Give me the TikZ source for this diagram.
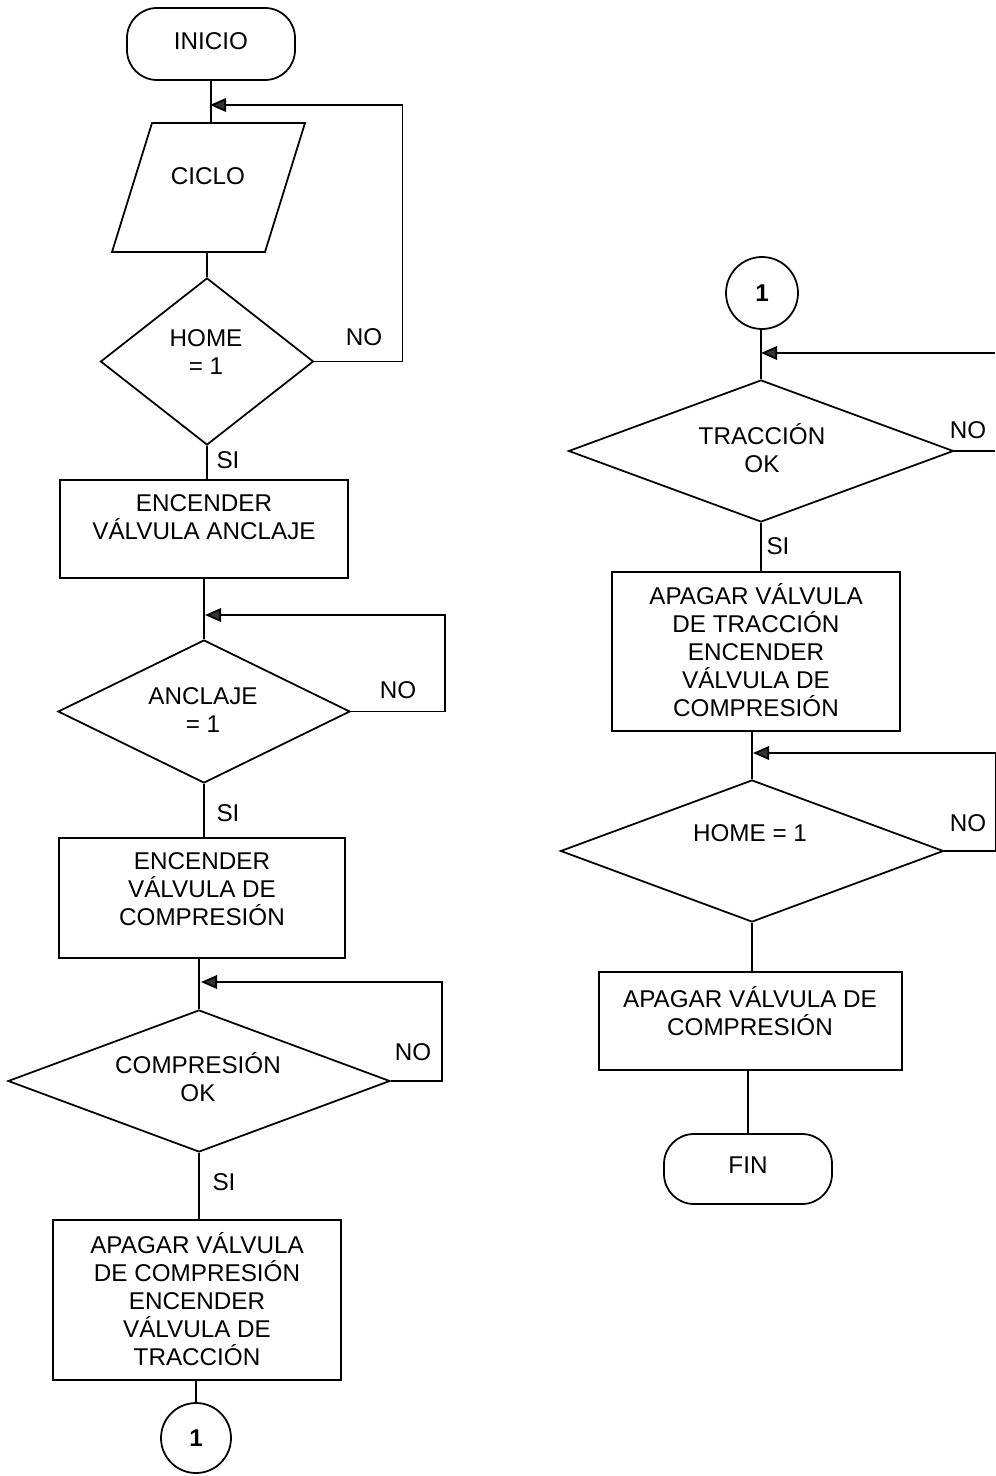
\documentclass[tikz,border=0pt]{standalone}
\usepackage{fontspec}
\setmainfont{Liberation Sans}
\usetikzlibrary{shapes.geometric,arrows.meta}

\tikzset{
  sz/.style 2 args={minimum width=#1*0.02cm, minimum height=#2*0.02cm},
  shp/.style={draw, line width=1pt, inner sep=0pt, fill=white},
  term/.style={shp, rectangle, rounded corners=0.6cm},
  box/.style={shp, rectangle},
  dec/.style={shp, diamond},
  conn/.style={shp, circle},
  txt/.style={align=center, inner sep=0pt, font=\fontsize{13.8}{16}\selectfont},
  lbl/.style={inner sep=0pt, font=\fontsize{13.8}{16}\selectfont},
  flow/.style={line width=1pt},
  back/.style={line width=1pt, -{Triangle[length=0.32cm, width=0.27cm, fill=black!80]}},
}

\begin{document}
\begin{tikzpicture}[x=0.02cm, y=-0.02cm]
\useasboundingbox (0,0) rectangle (995,1476);

% ---------------- left column ----------------
\node[term, sz={168}{72}] (ini) at (211,44) {};

% input/output parallelogram "CICLO"
\coordinate (cicTL) at (152,123);
\coordinate (cicTR) at (305,123);
\coordinate (cicBR) at (265,252);
\coordinate (cicBL) at (112,252);
\draw[line width=1pt, line join=miter] (cicTL) -- (cicTR) -- (cicBR) -- (cicBL) -- cycle;

\node[dec, sz={213}{167}] (hm1) at (207,361.5) {};
\node[box, sz={288}{98}] (b1) at (204,529) {};
\node[dec, sz={292}{143}] (anc) at (204,711.5) {};
\node[box, sz={286}{120}] (b2) at (202,898) {};
\node[dec, sz={382}{142}] (cmp) at (199,1081) {};
\node[box, sz={288}{160}] (b3) at (197,1300) {};
\node[conn, sz={70}{70}] (c1) at (196,1438) {};

\node[txt] (tini) at (211,41) {INICIO};
\node[txt] (tcic) at (208,176) {CICLO};
\node[txt] (thm1) at (206,352) {HOME\\= 1};
\node[txt] (tb1) at (204,517) {ENCENDER\\VÁLVULA ANCLAJE};
\node[txt] (tanc) at (203,710) {ANCLAJE\\= 1};
\node[txt] (tb2) at (202,889) {ENCENDER\\VÁLVULA DE\\COMPRESIÓN};
\node[txt] (tcmp) at (198,1077) {COMPRESIÓN\\OK};
\node[txt] (tb3) at (197,1299) {APAGAR VÁLVULA\\DE COMPRESIÓN\\ENCENDER\\VÁLVULA DE\\TRACCIÓN};
\node[txt] (tc1) at (196,1438) {\textbf{1}};

% junctions where the loops come back
\coordinate (j1) at (210,105);
\coordinate (j2) at (205,615);
\coordinate (j3) at (201,982);

\draw[flow] (ini.south) -- (ini.south |- cicTL);
\draw[flow] (hm1.north |- cicBL) -- (hm1.north);
\draw[flow] (hm1.south) -- (hm1.south |- b1.north);
\draw[flow] (anc.north |- b1.south) -- (anc.north);
\draw[flow] (anc.south) -- (anc.south |- b2.north);
\draw[flow] (cmp.north |- b2.south) -- (cmp.north);
\draw[flow] (cmp.south) -- (cmp.south |- b3.north);
\draw[flow] (c1.north |- b3.south) -- (c1.north);

\draw[back] (hm1.east) -- ++(88,0) |- (j1);
\draw[back] (anc.east) -- ++(94,0) |- (j2);
\draw[back] (cmp.east) -- ++(51,0) |- (j3);

\node[lbl] (no1) at (364,337) {NO};
\node[lbl] (si1) at (228,460) {SI};
\node[lbl] (no2) at (398,690) {NO};
\node[lbl] (si2) at (228,813) {SI};
\node[lbl] (no3) at (413,1052) {NO};
\node[lbl] (si3) at (224,1182) {SI};

% ---------------- right column ----------------
\node[conn, sz={72}{72}] (c2) at (762,293) {};
\node[dec, sz={385}{142}] (tr) at (761,451) {};
\node[box, sz={288}{159}] (b5) at (756,651.5) {};
\node[dec, sz={383}{142}] (hm2) at (752,851) {};
\node[box, sz={303}{98}] (b6) at (750.5,1021) {};
\node[term, sz={168}{70}] (fin) at (748,1169) {};

\node[txt] (tc2) at (762,293) {\textbf{1}};
\node[txt] (ttr) at (762,448) {TRACCIÓN\\OK};
\node[txt] (tb5) at (756,650) {APAGAR VÁLVULA\\DE TRACCIÓN\\ENCENDER\\VÁLVULA DE\\COMPRESIÓN};
\node[txt] (thm2) at (750,833) {HOME = 1};
\node[txt] (tb6) at (750,1011) {APAGAR VÁLVULA DE\\COMPRESIÓN};
\node[txt] (tfin) at (748,1165) {FIN};

\coordinate (j4) at (761,353);
\coordinate (j5) at (753,753);
\coordinate (e1) at (995,353);
\coordinate (e2) at (995,451);

\draw[flow] (tr.north |- c2.south) -- (tr.north);
\draw[flow] (tr.south) -- (tr.south |- b5.north);
\draw[flow] (hm2.north |- b5.south) -- (hm2.north);
\draw[flow] (hm2.south) -- (hm2.south |- b6.north);
\draw[flow] (fin.north |- b6.south) -- (fin.north);

\draw[back] (e1) -- (j4);
\draw[flow] (tr.east) -- (e2);
\draw[back] (hm2.east) -- ++(51,0) |- (j5);

\node[lbl] (no4) at (968,430) {NO};
\node[lbl] (si4) at (778,546) {SI};
\node[lbl] (no5) at (968,823) {NO};
\end{tikzpicture}
\end{document}
